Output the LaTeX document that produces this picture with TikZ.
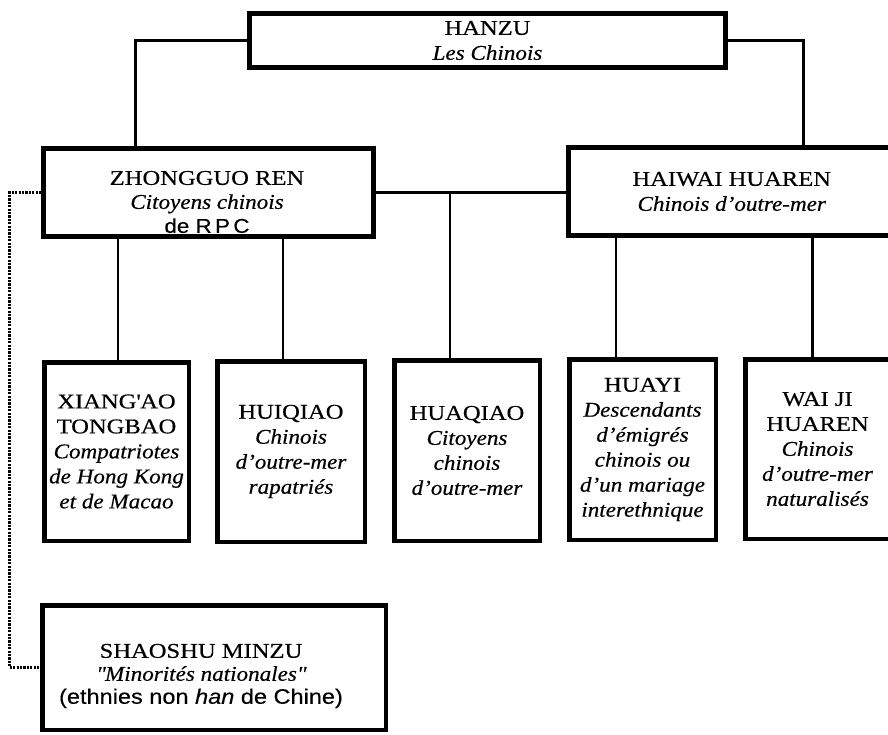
\documentclass[tikz,border=0pt]{standalone}
\usepackage{fontspec}
\setmainfont{Liberation Serif}[FakeBold=0.4,
  UprightFeatures={FakeStretch=1.17}, ItalicFeatures={FakeStretch=1.1}]
\newfontfamily\sansalt{Liberation Sans}[FakeStretch=1.12, FakeBold=0.3]
\usetikzlibrary{calc}
\begin{document}
\begin{tikzpicture}[x=1pt,y=-1pt,
  box/.style={draw, line width=4.5pt, rectangle, inner sep=0pt, align=center,
    font=\fontsize{21}{25}\selectfont},
  txt/.style={align=center, inner sep=0pt, font=\fontsize{21}{24}\selectfont},
  conn/.style={line width=2.8pt},
  dots/.style={line width=2.8pt, dash pattern=on 2.2pt off 1.2pt}]
\useasboundingbox (0,0) rectangle (888,735);
\clip (0,0) rectangle (888,735);
\fill[white] (0,0) rectangle (888,735);

% top
\node[box, minimum width=476pt, minimum height=54pt] (hz) at (487.5,40.5)
  {HANZU\\\textit{Les Chinois}};

% second level
\node[box, minimum width=330pt, minimum height=88pt] (zg) at (208.5,192.5) {};
\node[txt] (zgt) at (207,202)
  {ZHONGGUO REN\\\textit{Citoyens chinois}\\{\sansalt\fontsize{20}{24}\selectfont de R\,P\,C}};
\node[box, minimum width=326.5pt, minimum height=88pt] (hw) at (731.75,191.5)
  {HAIWAI HUAREN\\\textit{Chinois d’outre-mer}};

% third level
\node[box, minimum width=144.5pt, minimum height=178.5pt] (xa) at (116.5,451.5)
  {XIANG\textquotesingle AO\\TONGBAO\\\textit{Compatriotes}\\\textit{de Hong Kong}\\\textit{et de Macao}};
\node[box, minimum width=147.5pt, minimum height=180.5pt] (hi) at (291,451.5)
  {HUIQIAO\\\textit{Chinois}\\\textit{d’outre-mer}\\\textit{rapatriés}};
\node[box, minimum width=145.5pt, minimum height=180.5pt] (hq) at (467,450.5)
  {HUAQIAO\\\textit{Citoyens}\\\textit{chinois}\\\textit{d’outre-mer}};
\node[box, minimum width=146.5pt, minimum height=180.5pt] (hy) at (642.5,449.5)
  {HUAYI\\\textit{Descendants}\\\textit{d’émigrés}\\\textit{chinois ou}\\\textit{d’un mariage}\\\textit{interethnique}};
\node[box, minimum width=144.5pt, minimum height=179.5pt] (wj) at (817.5,449)
  {WAI JI\\HUAREN\\\textit{Chinois}\\\textit{d’outre-mer}\\\textit{naturalisés}};

% minorities
\node[box, minimum width=343.5pt, minimum height=124.5pt] (sm) at (214,667.5) {};
\node[txt, font=\fontsize{21}{23}\selectfont] (smt) at (201,676)
  {SHAOSHU MINZU\\\textit{\textquotedbl Minorités nationales\textquotedbl}\\{\sansalt\fontsize{21}{23}\selectfont (ethnies non \textit{han} de Chine)}};

% connectors
\draw[conn] (hz.west) -| ($(zg.north west)+(94.5,0)$);
\draw[conn] (hz.east) -| ($(hw.north west)+(237.5,0)$);
\draw[conn] (zg.east) -- (zg.east -| hw.west);
\coordinate (c0) at ($(hq.north)+(-17,0)$);
\draw[conn] (c0) -- (c0 |- zg.east);
\coordinate (c1) at ($(xa.north)+(1.5,0)$);
\draw[conn] (c1) -- (c1 |- zg.south);
\coordinate (c2) at ($(hi.north)+(-8,0)$);
\draw[conn] (c2) -- (c2 |- zg.south);
\coordinate (c3) at ($(hy.north)+(-26.5,0)$);
\draw[conn] (c3) -- (c3 |- hw.south);
\coordinate (c4) at ($(wj.north)+(-5,0)$);
\draw[conn] (c4) -- (c4 |- hw.south);
\draw[dots] (zg.west) -- ++(-31.5,0) |- (sm.west);
\end{tikzpicture}
\end{document}
